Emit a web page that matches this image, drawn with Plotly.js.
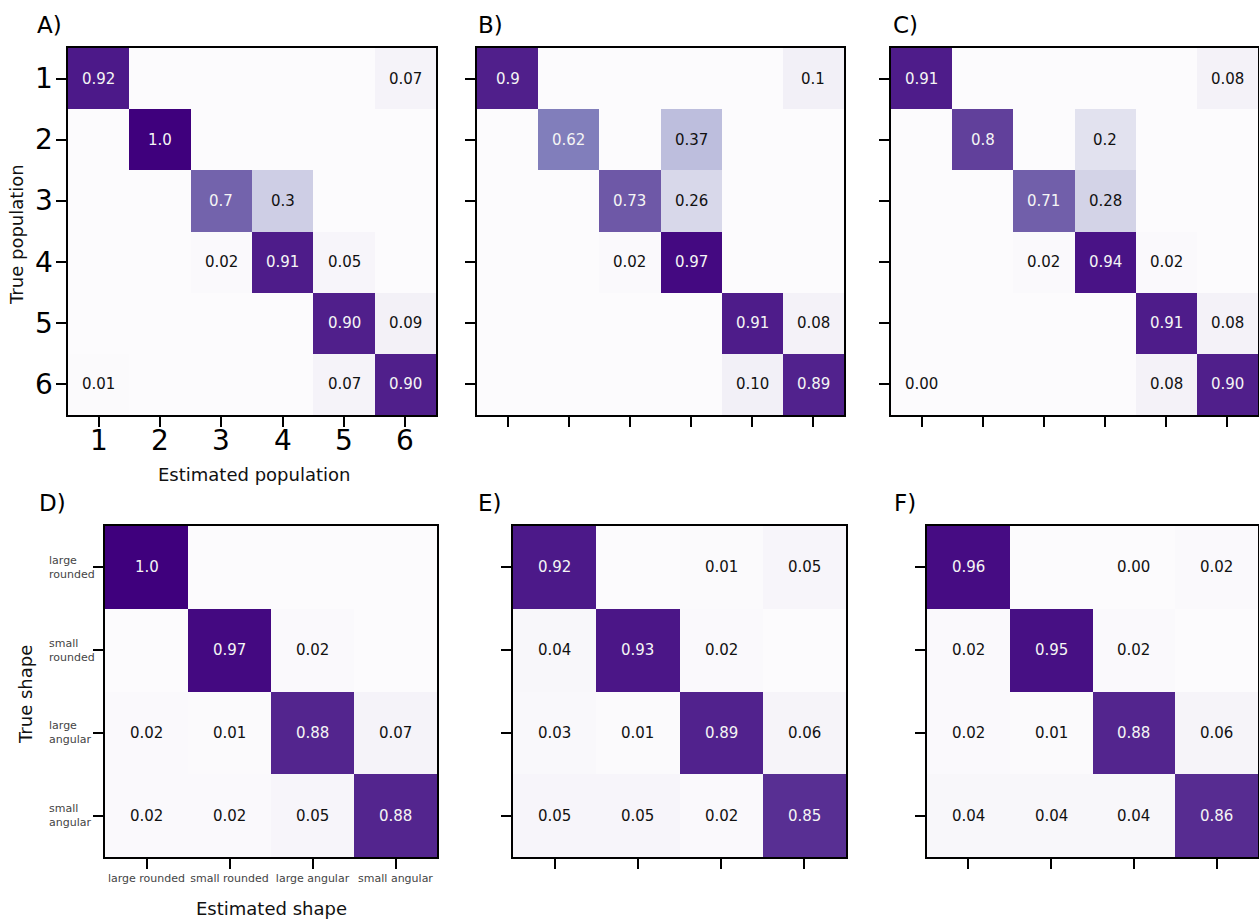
<!DOCTYPE html>
<html>
<head>
<meta charset="utf-8">
<script src="https://cdn.plot.ly/plotly-3.0.1.min.js"></script>
<style>html,body{margin:0;padding:0;background:#fff;}#chart{width:1259px;height:922px;}</style>
</head>
<body>
<div id="chart"></div>
<script>
// ---- data (cell labels as printed; blank = 0) ----
const populationTicks = ["1", "2", "3", "4", "5", "6"];
const shapeTicksX = ["large rounded", "small rounded", "large angular", "small angular"];
const shapeTicksY = ["large<br>rounded", "small<br>rounded", "large<br>angular", "small<br>angular"];

const panelA = [
  ["0.92", "", "", "", "", "0.07"],
  ["", "1.0", "", "", "", ""],
  ["", "", "0.7", "0.3", "", ""],
  ["", "", "0.02", "0.91", "0.05", ""],
  ["", "", "", "", "0.90", "0.09"],
  ["0.01", "", "", "", "0.07", "0.90"]
];
const panelB = [
  ["0.9", "", "", "", "", "0.1"],
  ["", "0.62", "", "0.37", "", ""],
  ["", "", "0.73", "0.26", "", ""],
  ["", "", "0.02", "0.97", "", ""],
  ["", "", "", "", "0.91", "0.08"],
  ["", "", "", "", "0.10", "0.89"]
];
const panelC = [
  ["0.91", "", "", "", "", "0.08"],
  ["", "0.8", "", "0.2", "", ""],
  ["", "", "0.71", "0.28", "", ""],
  ["", "", "0.02", "0.94", "0.02", ""],
  ["", "", "", "", "0.91", "0.08"],
  ["0.00", "", "", "", "0.08", "0.90"]
];
const panelD = [
  ["1.0", "", "", ""],
  ["", "0.97", "0.02", ""],
  ["0.02", "0.01", "0.88", "0.07"],
  ["0.02", "0.02", "0.05", "0.88"]
];
const panelE = [
  ["0.92", "", "0.01", "0.05"],
  ["0.04", "0.93", "0.02", ""],
  ["0.03", "0.01", "0.89", "0.06"],
  ["0.05", "0.05", "0.02", "0.85"]
];
const panelF = [
  ["0.96", "", "0.00", "0.02"],
  ["0.02", "0.95", "0.02", ""],
  ["0.02", "0.01", "0.88", "0.06"],
  ["0.04", "0.04", "0.04", "0.86"]
];
const panelLetters = ["A)", "B)", "C)", "D)", "E)", "F)"];

// ---- styling / layout ----
const W = 1259, H = 922;
const FONT = "DejaVu Sans, Verdana, sans-serif";
const purples = [
  [0, "#fcfbfd"], [0.125, "#efedf5"], [0.25, "#dadaeb"], [0.375, "#bcbddc"],
  [0.5, "#9e9ac8"], [0.625, "#807dba"], [0.75, "#6a51a3"], [0.875, "#54278f"], [1, "#3f007d"]
];
// pixel boxes [x0, x1, y0, y1]
const boxes = [
  [68, 436, 48, 415], [477, 844, 48, 415], [891, 1258, 48, 415],
  [105, 437, 526, 857], [513, 846, 526, 857], [927, 1258, 526, 857]
];
const letterPos = [[35, 25], [476, 25], [891, 25], [37, 503], [476, 503], [892, 503]];
const panels = [panelA, panelB, panelC, panelD, panelE, panelF];

const data = [];
const layout = {
  width: W, height: H, margin: {l: 0, r: 0, t: 0, b: 0},
  paper_bgcolor: "#fff", plot_bgcolor: "#fff",
  font: {family: FONT, color: "#000"},
  showlegend: false, annotations: []
};

panels.forEach((p, k) => {
  const n = p.length;
  const idx = Array.from({length: n}, (_, i) => i);
  const z = p.map(r => r.map(v => v === "" ? 0 : parseFloat(v)));
  const ax = k === 0 ? "" : String(k + 1);
  data.push({
    type: "heatmap", z: z, x: idx, y: idx, xaxis: "x" + ax, yaxis: "y" + ax,
    colorscale: purples, zmin: 0, zmax: 1, showscale: false, hoverinfo: "skip"
  });
  const b = boxes[k];
  const isShape = k >= 3;
  layout["xaxis" + ax] = {
    domain: [b[0] / W, b[1] / W], anchor: "y" + ax, range: [-0.5, n - 0.5],
    tickvals: idx, ticktext: isShape ? shapeTicksX : populationTicks,
    showticklabels: k === 3, ticks: "outside", ticklen: 10, tickwidth: 2, tickcolor: "#000",
    tickfont: {size: 11, color: "#444", family: FONT},
    showline: true, mirror: true, linewidth: 2, linecolor: "#000",
    showgrid: false, zeroline: false, fixedrange: true
  };
  layout["yaxis" + ax] = {
    domain: [1 - b[3] / H, 1 - b[2] / H], anchor: "x" + ax, range: [n - 0.5, -0.5],
    tickvals: idx, showticklabels: false, ticks: "outside", ticklen: 10, tickwidth: 2, tickcolor: "#000",
    showline: true, mirror: true, linewidth: 2, linecolor: "#000",
    showgrid: false, zeroline: false, fixedrange: true
  };
  // cell labels
  p.forEach((row, i) => row.forEach((t, j) => {
    if (t === "") return;
    layout.annotations.push({
      xref: "x" + ax, yref: "y" + ax, x: j, y: i, text: t, showarrow: false,
      font: {family: FONT, size: 15, color: parseFloat(t) > 0.5 ? "#f5f5f5" : "#111"}
    });
  }));
  // panel letter
  layout.annotations.push({
    xref: "paper", yref: "paper", x: letterPos[k][0] / W, y: 1 - letterPos[k][1] / H,
    xanchor: "left", yanchor: "middle", text: panelLetters[k], showarrow: false,
    font: {family: FONT, size: 23, color: "#000"}
  });
});

// tick labels of panel A (large digits)
populationTicks.forEach((t, i) => {
  layout.annotations.push({
    xref: "x", yref: "paper", x: i, y: 1 - 441 / H, xanchor: "center", yanchor: "middle",
    text: t, showarrow: false, font: {family: FONT, size: 28, color: "#000"}
  });
  layout.annotations.push({
    xref: "paper", yref: "y", x: 55 / W, y: i, xanchor: "right", yanchor: "middle",
    text: t, showarrow: false, font: {family: FONT, size: 28, color: "#000"}
  });
});

// y tick labels of panel D (left aligned, two lines)
shapeTicksY.forEach((t, i) => {
  layout.annotations.push({
    xref: "paper", yref: "y4", x: 47 / W, y: i, xanchor: "left", yanchor: "middle",
    align: "left", text: t, showarrow: false,
    font: {family: FONT, size: 11, color: "#444"}
  });
});

// axis titles
const titles = [
  {text: "Estimated population", x: 254, y: 474, rot: 0},
  {text: "True population", x: 16, y: 235, rot: -90},
  {text: "Estimated shape", x: 271, y: 908, rot: 0},
  {text: "True shape", x: 25, y: 695, rot: -90}
];
titles.forEach(t => layout.annotations.push({
  xref: "paper", yref: "paper", x: t.x / W, y: 1 - t.y / H, xanchor: "center", yanchor: "middle",
  text: t.text, textangle: t.rot, showarrow: false, font: {family: FONT, size: 18, color: "#111"}
}));

Plotly.newPlot("chart", data, layout, {staticPlot: true, displayModeBar: false});
</script>
</body>
</html>
